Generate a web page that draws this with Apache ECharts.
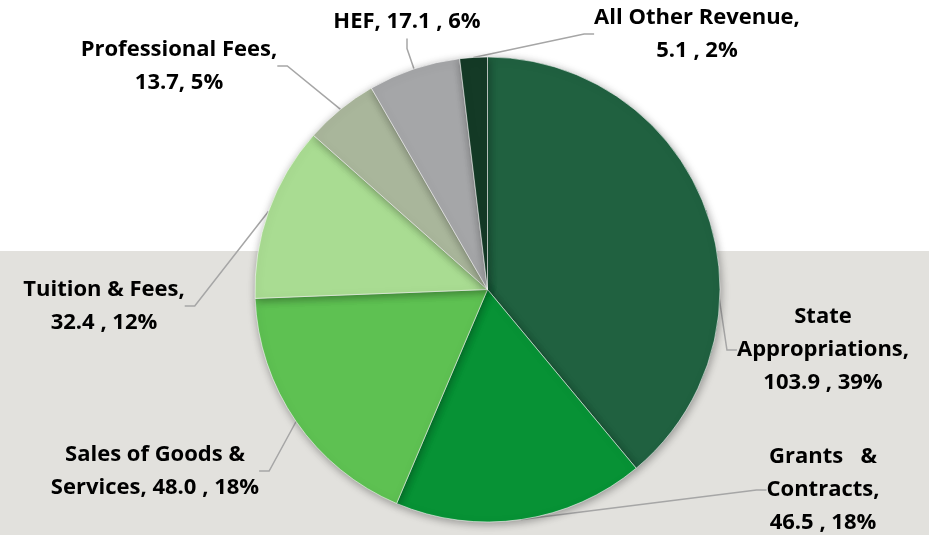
<!DOCTYPE html>
<html>
<head>
<meta charset="utf-8">
<script src="https://cdn.jsdelivr.net/npm/echarts@6/dist/echarts.min.js"></script>
<style>
html,body{margin:0;padding:0;background:#fff;}
#chart{width:929px;height:535px;}
</style>
</head>
<body>
<div id="chart"></div>
<script>
// Data
var categories = ['State Appropriations', 'Grants & Contracts', 'Sales of Goods & Services', 'Tuition & Fees', 'Professional Fees', 'HEF', 'All Other Revenue'];
var values = [103.9, 46.5, 48.0, 32.4, 13.7, 17.1, 5.1];
var valueLabels = ['103.9', '46.5', '48.0', '32.4', '13.7', '17.1', '5.1'];
var percentLabels = ['39%', '18%', '18%', '12%', '5%', '6%', '2%'];
var labelTexts = [
  'State\nAppropriations,\n103.9 , 39%',
  'Grants   &\nContracts,\n46.5 , 18%',
  'Sales of Goods &\nServices, 48.0 , 18%',
  'Tuition & Fees,\n32.4 , 12%',
  'Professional Fees,\n13.7, 5%',
  'HEF, 17.1 , 6%',
  'All Other Revenue,\n5.1 , 2%'
];

// Styling / layout
var colors = ['#206140', '#079235', '#5ec152', '#a9dc92', '#a9b69b', '#a5a6a8', '#143a26'];
var labelPos = [
  [823, 350],
  [823, 490],
  [155, 471],
  [104, 306],
  [179, 66],
  [407, 22],
  [697, 34]
];

var chart = echarts.init(document.getElementById('chart'), null, {renderer: 'canvas'});

var data = categories.map(function (c, i) {
  return {
    name: c,
    value: values[i],
    itemStyle: {color: colors[i]},
    label: {formatter: labelTexts[i]}
  };
});

chart.setOption({
  backgroundColor: '#ffffff',
  animation: false,
  graphic: [{
    type: 'rect',
    z: -10,
    shape: {x: 0, y: 251, width: 929, height: 284},
    style: {fill: '#e2e1dd'}
  }],
  series: [{
    type: 'pie',
    center: [487.5, 289.5],
    radius: [0, 232.5],
    startAngle: 90,
    clockwise: true,
    avoidLabelOverlap: false,
    data: data,
    itemStyle: {
      borderColor: 'rgba(255,255,255,0.7)',
      borderWidth: 0.8,
      shadowBlur: 8,
      shadowColor: 'rgba(0,0,0,0.35)',
      shadowOffsetX: 1,
      shadowOffsetY: 2
    },
    label: {
      show: true,
      position: 'outside',
      color: '#000',
      fontFamily: 'Open Sans',
      fontWeight: 'bold',
      fontSize: 22,
      lineHeight: 33,
      align: 'center'
    },
    labelLine: {
      show: true,
      length: 12,
      length2: 10,
      lineStyle: {color: '#a6a6a6', width: 1.5}
    },
    labelLayout: function (p) {
      var pos = labelPos[p.dataIndex];
      return {x: pos[0], y: pos[1], align: 'center', verticalAlign: 'middle'};
    },
    emphasis: {disabled: true}
  }]
});
</script>
</body>
</html>
